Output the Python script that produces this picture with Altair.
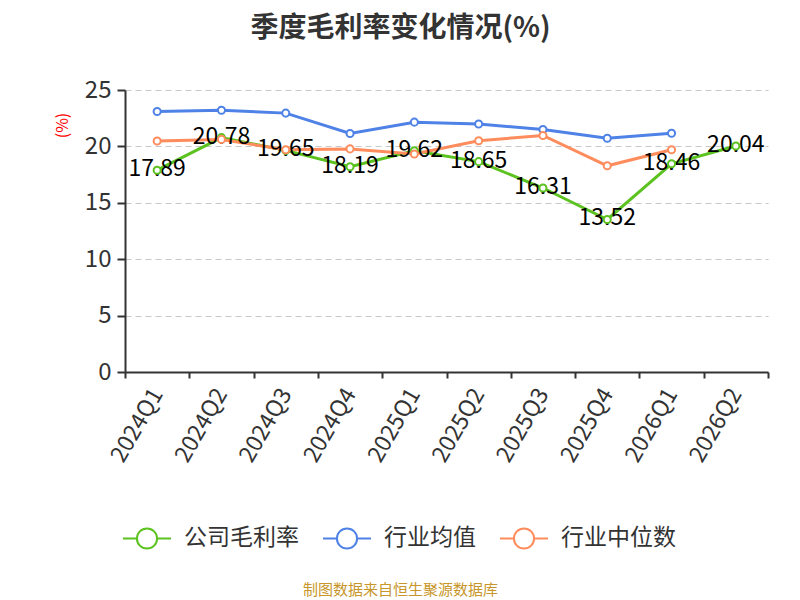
import altair as alt
import pandas as pd

quarters = ["2024Q1", "2024Q2", "2024Q3", "2024Q4", "2025Q1",
            "2025Q2", "2025Q3", "2025Q4", "2026Q1", "2026Q2"]
company = [17.89, 20.78, 19.65, 18.19, 19.62, 18.65, 16.31, 13.52, 18.46, 20.04]
ind_mean = [23.10, 23.20, 22.95, 21.15, 22.15, 21.98, 21.50, 20.72, 21.17, None]
ind_median = [20.48, 20.62, 19.70, 19.78, 19.32, 20.50, 20.97, 18.28, 19.70, None]

series_names = ["公司毛利率", "行业均值", "行业中位数"]
series_colors = ["#5bc21f", "#4f82e6", "#ff8c5c"]

rows = []
for name, vals in zip(series_names, [company, ind_mean, ind_median]):
    for q, v in zip(quarters, vals):
        if v is not None:
            rows.append({"季度": q, "系列": name, "值": v})
df = pd.DataFrame(rows)

FONT = "Noto Sans CJK SC"

x_enc = alt.X(
    "季度:N",
    sort=quarters,
    scale=alt.Scale(type="band", paddingInner=0, paddingOuter=0),
    axis=alt.Axis(
        title="制图数据来自恒生聚源数据库",
        titleColor="#c8962a",
        titleFontSize=15,
        titleFontWeight="normal",
        titleX=275,
        titleY=217,
        titleAlign="center",
        titleBaseline="middle",
        labelAngle=-60,
        labelAlign="right",
        labelBaseline="middle",
        labelFontSize=23,
        labelColor="#333333",
        labelPadding=12,
        tickBand="extent",
        tickSize=6,
        tickColor="#333333",
        tickWidth=2,
        domainColor="#333333",
        domainWidth=2,
        grid=False,
    ),
)

y_enc = alt.Y(
    "值:Q",
    scale=alt.Scale(domain=[0, 25]),
    axis=alt.Axis(
        values=[0, 5, 10, 15, 20, 25],
        title="(%)",
        titleColor="#ff0000",
        titleFontSize=16,
        titleFontWeight="normal",
        titleAngle=270,
        titleX=-63,
        titleY=35,
        titleAlign="center",
        titleBaseline="middle",
        labelFontSize=24,
        labelColor="#333333",
        labelPadding=6,
        tickSize=8,
        tickColor="#333333",
        tickWidth=2,
        domainColor="#333333",
        domainWidth=2,
        grid=True,
        gridColor="#c8c8c8",
        gridDash=[6, 4],
        gridWidth=1.2,
    ),
)

color_scale = alt.Scale(domain=series_names, range=series_colors)

legend_symbol = ("M-1,0L-0.42,0M0.42,0L1,0"
                 "M-0.42,0A0.42,0.42,0,1,1,0.42,0A0.42,0.42,0,1,1,-0.42,0Z")

legend = alt.Legend(
    title=None,
    orient="none",
    direction="horizontal",
    legendX=-3,
    legendY=423,
    symbolType=legend_symbol,
    symbolSize=2304,
    symbolStrokeWidth=2,
    symbolFillColor="white",
    labelFontSize=23,
    labelColor="#333333",
    labelOffset=12,
    columnPadding=20,
    labelLimit=300,
)

color_enc = alt.Color("系列:N", scale=color_scale, sort=series_names, legend=legend)

base = alt.Chart(df)

lines = base.mark_line(strokeWidth=3).encode(x=x_enc, y=y_enc, color=color_enc)

points = base.mark_point(filled=False, fill="white", size=50, strokeWidth=2, opacity=1).encode(
    x=x_enc, y=y_enc, color=color_enc
)

labels = base.transform_filter(alt.datum["系列"] == "公司毛利率").mark_text(
    fontSize=23, color="#000000", align="center", baseline="middle", dy=-1
).encode(x=x_enc, y=y_enc, text=alt.Text("值:Q", format=".2f"))

chart = alt.layer(lines, labels, points).properties(
    width=643,
    height=282,
    title=alt.TitleParams(
        "季度毛利率变化情况(%)",
        fontSize=28,
        fontWeight="bold",
        color="#333333",
        anchor="middle",
        dx=-46,
        offset=35,
    ),
    autosize=alt.AutoSizeParams(type="none"),
    padding={"left": 117, "top": 82, "right": 24, "bottom": 230},
).configure(
    font=FONT,
).configure_view(
    stroke=None,
)

chart.save("out.html", embed_options={"renderer": "svg", "actions": False})
